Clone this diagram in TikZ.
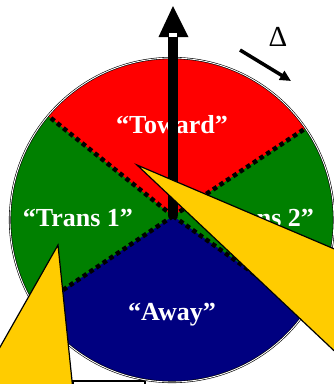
\documentclass[tikz,border=0pt]{standalone}
\usepackage{fontspec}
\setmainfont{Liberation Serif}
\usetikzlibrary{arrows.meta}
\definecolor{secred}{RGB}{255,0,0}
\definecolor{secgreen}{RGB}{0,128,0}
\definecolor{secnavy}{RGB}{0,0,128}
\definecolor{callout}{RGB}{255,204,0}
\tikzset{
  seclbl/.style={text=white, font=\fontsize{26}{28}\selectfont\bfseries},
  secedge/.style={black, dash pattern=on 4.5pt off 3.5pt, line width=4.5pt},
  rim/.style={draw=black, double=white, double distance=0.9pt, line width=0.6pt},
  pointer/.style={fill=callout, draw=black, line width=1.2pt, line join=miter},
  dirarr/.style={-{Triangle[length=11pt,width=10pt]}, line width=3.5pt},
}

\begin{document}
\begin{tikzpicture}[x=1pt,y=-1pt]
  \useasboundingbox (0,0) rectangle (333,384);
  \coordinate (hub) at (173,216);
  \coordinate (ul) at (-16,64.5);
  \coordinate (ur) at (368,87);
  \coordinate (ll) at (8,327);
  \coordinate (lr) at (353,344);
  % box under the wheel
  \draw[fill=white, line width=1.2pt] (73,381) rectangle (145,430);
  \begin{scope}
    \clip (172,220) circle (162pt);
    \fill[secgreen] (172,220) circle (162pt);
    \fill[secred] (hub) -- (ul) -- (-16,0) -- (368,0) -- (ur) -- cycle;
    \fill[secnavy] (hub) -- (ll) -- (8,430) -- (353,430) -- (lr) -- cycle;
    \draw[secedge] (hub) -- (ul);
    \draw[secedge] (hub) -- (ur);
    \draw[secedge] (hub) -- (ll);
    \draw[secedge] (hub) -- (lr);
  \end{scope}
  \draw[rim] (172,220) circle (162pt);
  \node[seclbl] (toward) at (172,125) {“Toward”};
  \node[seclbl] (transone) at (78,218) {“Trans 1”};
  \node[seclbl] (transtwo) at (259,218) {“Trans 2”};
  \node[seclbl] (away) at (172,315) {“Away”};
  % heading arrow
  \fill (168,216) rectangle (178,36);
  \fill (173,6) -- (188.5,37) -- (158.5,37) -- cycle;
  \draw[fill=white, line width=0.5pt] (168.5,32) rectangle (177.5,37);
  \draw[pointer] (137,165) -- (345,253.5) -- (345,361) -- cycle;
  \draw[pointer] (58,245) -- (-30,400) -- (74,400) -- cycle;
  \node[font=\fontsize{29}{30}\selectfont] (delta) at (278,37) {Δ};
  \coordinate (dfrom) at (240,50);
  \coordinate (dto) at (291,81);
  \draw[dirarr] (dfrom) -- (dto);
\end{tikzpicture}
\end{document}
